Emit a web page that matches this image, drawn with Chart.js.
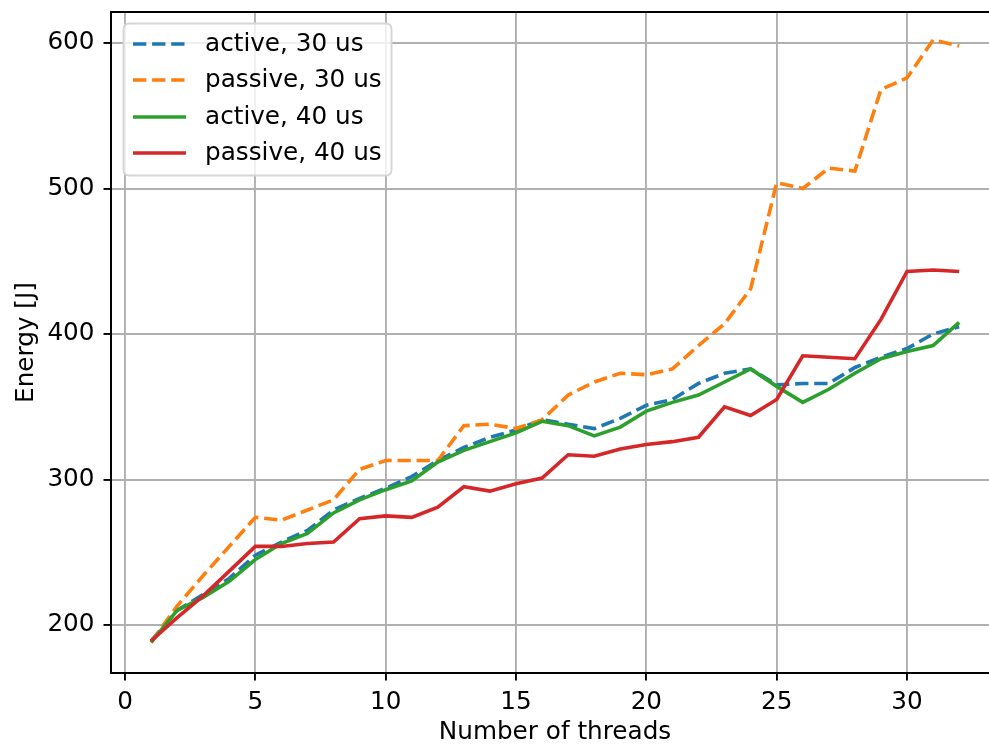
<!DOCTYPE html>
<html>
<head>
<meta charset="utf-8">
<script src="https://cdn.jsdelivr.net/npm/chart.js@4.4.1/dist/chart.umd.min.js"></script>
<style>
  html, body { margin: 0; padding: 0; background: #fff; }
  #wrap { width: 989px; height: 749px; }
</style>
</head>
<body>
<div id="wrap"><canvas id="chart" width="989" height="749"></canvas></div>
<script>
// Energy use per thread count, two spin modes at two timeouts
const threads = [1, 2, 3, 4, 5, 6, 7, 8, 9, 10, 11, 12, 13, 14, 15, 16,
  17, 18, 19, 20, 21, 22, 23, 24, 25, 26, 27, 28, 29, 30, 31, 32]

const active30 = [189, 210, 221, 232, 248, 257, 265, 279, 287, 294, 302, 313,
  322, 329, 334, 341, 338, 335, 342, 351, 355, 366, 373, 376, 365, 366, 366,
  377, 384, 390, 400, 405]

const passive30 = [188, 213, 234, 254, 274, 272, 279, 286, 307, 313, 313, 313,
  337, 338, 335, 341, 358, 367, 373, 372, 376, 392, 407, 431, 504, 500, 514,
  512, 568, 576, 602, 598]

const active40 = [188, 210, 219, 230, 245, 256, 263, 277, 286, 293, 299, 312,
  320, 326, 332, 340, 337, 330, 336, 347, 353, 358, 367, 376, 364, 353, 362,
  373, 383, 388, 392, 408]

const passive40 = [189, 205, 220, 237, 254, 254, 256, 257, 273, 275, 274, 281,
  295, 292, 297, 301, 317, 316, 321, 324, 326, 329, 350, 344, 355, 385, 384,
  383, 410, 443, 444, 443]

const xTicks = [0, 5, 10, 15, 20, 25, 30]
const yTicks = [200, 300, 400, 500, 600]

const FONT = 'DejaVu Sans'
const FONT_SIZE = 24.7
const LW = 3.6
const DASH = [13.3, 5.8]
const THIN = 1.9

const series = [
  { label: 'active, 30 us', data: active30, color: '#1f77b4', dash: DASH },
  { label: 'passive, 30 us', data: passive30, color: '#ff7f0e', dash: DASH },
  { label: 'active, 40 us', data: active40, color: '#2ca02c', dash: [] },
  { label: 'passive, 40 us', data: passive40, color: '#d62728', dash: [] },
]

function toPoints(values) {
  return threads.map((t, i) => ({ x: t, y: values[i] }))
}

// spines, drawn over the plot like matplotlib does
const spinePlugin = {
  id: 'spines',
  afterDatasetsDraw(chart) {
    const { ctx, chartArea } = chart
    ctx.save()
    ctx.strokeStyle = '#000'
    ctx.lineWidth = THIN
    ctx.beginPath()
    ctx.moveTo(chartArea.right, chartArea.top)
    ctx.lineTo(chartArea.left, chartArea.top)
    ctx.lineTo(chartArea.left, chartArea.bottom)
    ctx.lineTo(chartArea.right, chartArea.bottom)
    ctx.stroke()
    ctx.restore()
  },
}

// x axis label, centred on the full axes width (the right part runs off the canvas)
const xLabelPlugin = {
  id: 'xLabel',
  afterDraw(chart) {
    const { ctx } = chart
    ctx.save()
    ctx.font = FONT_SIZE + 'px "' + FONT + '"'
    ctx.fillStyle = '#000'
    ctx.textAlign = 'center'
    ctx.textBaseline = 'middle'
    ctx.fillText('Number of threads', 555, 733)
    ctx.restore()
  },
}

function roundRect(ctx, x, y, w, h, r) {
  ctx.beginPath()
  ctx.moveTo(x + r, y)
  ctx.lineTo(x + w - r, y)
  ctx.quadraticCurveTo(x + w, y, x + w, y + r)
  ctx.lineTo(x + w, y + h - r)
  ctx.quadraticCurveTo(x + w, y + h, x + w - r, y + h)
  ctx.lineTo(x + r, y + h)
  ctx.quadraticCurveTo(x, y + h, x, y + h - r)
  ctx.lineTo(x, y + r)
  ctx.quadraticCurveTo(x, y, x + r, y)
  ctx.closePath()
}

// matplotlib-style legend box in the upper left corner
const legendPlugin = {
  id: 'boxLegend',
  afterDraw(chart) {
    const { ctx } = chart
    const box = { x: 123.5, y: 23.5, w: 268, h: 152 }
    ctx.save()
    roundRect(ctx, box.x, box.y, box.w, box.h, 6)
    ctx.fillStyle = 'rgba(255,255,255,0.8)'
    ctx.fill()
    ctx.strokeStyle = '#d6d6d6'
    ctx.lineWidth = THIN
    ctx.stroke()

    ctx.font = FONT_SIZE + 'px "' + FONT + '"'
    ctx.textBaseline = 'middle'
    ctx.fillStyle = '#000'
    const rows = [44, 80, 117, 153]
    series.forEach((s, i) => {
      const y = rows[i]
      ctx.strokeStyle = s.color
      ctx.lineWidth = LW
      ctx.setLineDash(s.dash)
      ctx.beginPath()
      ctx.moveTo(133, y)
      ctx.lineTo(186, y)
      ctx.stroke()
      ctx.setLineDash([])
      ctx.fillText(s.label, 205, y + 1)
    })
    ctx.restore()
  },
}

function noEdgePadding(scale) {
  scale.paddingTop = 0
  scale.paddingBottom = 0
  scale.paddingLeft = 0
  scale.paddingRight = 0
}

const ctx = document.getElementById('chart').getContext('2d')

new Chart(ctx, {
  type: 'line',
  data: {
    datasets: series.map((s, i) => ({
      label: s.label,
      data: toPoints(s.data),
      borderColor: s.color,
      backgroundColor: s.color,
      borderWidth: LW,
      borderDash: s.dash,
      pointRadius: 0,
      tension: 0,
      fill: false,
      order: series.length - i,
    })),
  },
  options: {
    responsive: false,
    animation: false,
    layout: { padding: { top: 12, right: 0, left: 0, bottom: 0 } },
    plugins: {
      legend: { display: false },
      tooltip: { enabled: false },
    },
    scales: {
      x: {
        type: 'linear',
        min: -0.537,
        max: 33.145,
        afterBuildTicks(scale) {
          scale.ticks = xTicks.map((v) => ({ value: v }))
        },
        afterFit(scale) {
          scale.height = 76
          noEdgePadding(scale)
        },
        grid: {
          color: '#b0b0b0',
          lineWidth: THIN,
          tickColor: '#000',
          tickWidth: THIN,
          tickLength: 7.5,
        },
        border: { color: '#000', width: THIN },
        ticks: {
          color: '#000',
          font: { family: FONT, size: FONT_SIZE },
          padding: 7,
          maxRotation: 0,
        },
      },
      y: {
        type: 'linear',
        min: 167.0,
        max: 621.3,
        afterBuildTicks(scale) {
          scale.ticks = yTicks.map((v) => ({ value: v }))
        },
        afterFit(scale) {
          scale.width = 111
          noEdgePadding(scale)
        },
        grid: {
          color: '#b0b0b0',
          lineWidth: THIN,
          tickColor: '#000',
          tickWidth: THIN,
          tickLength: 7.5,
        },
        border: { color: '#000', width: THIN },
        ticks: {
          color: '#000',
          font: { family: FONT, size: FONT_SIZE },
          padding: 9,
        },
        title: {
          display: true,
          text: 'Energy [J]',
          color: '#000',
          font: { family: FONT, size: FONT_SIZE },
          padding: { top: 12, bottom: 0 },
        },
      },
    },
  },
  plugins: [spinePlugin, legendPlugin, xLabelPlugin],
})
</script>
</body>
</html>
